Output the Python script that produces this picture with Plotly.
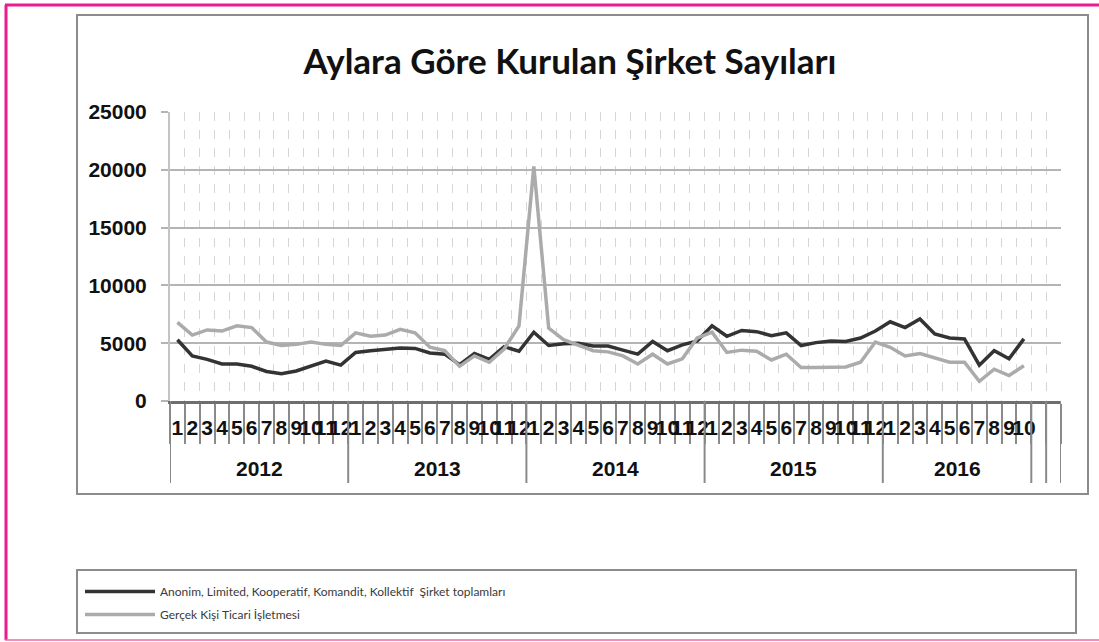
import plotly.graph_objects as go

# ---------------- data ----------------
years = ["2012", "2013", "2014", "2015", "2016"]
months_per_year = [12, 12, 12, 12, 10]
month_names = ["1", "2", "3", "4", "5", "6", "7", "8", "9", "10", "11", "12"]
extra_empty_slots = 2

anonim = [5300, 3900, 3600, 3200, 3200, 3000, 2550, 2350, 2600, 3050, 3450, 3100,
          4200, 4350, 4500, 4580, 4550, 4150, 4050, 3150, 4100, 3600, 4700, 4300,
          5950, 4800, 4950, 5000, 4750, 4750, 4400, 4050, 5150, 4350, 4850, 5200,
          6500, 5600, 6100, 6000, 5650, 5900, 4800, 5050, 5200, 5150, 5450, 6050,
          6850, 6350, 7100, 5800, 5450, 5370, 3100, 4350, 3650, 5370]

gercek = [6800, 5700, 6150, 6050, 6500, 6350, 5100, 4800, 4900, 5100, 4900, 4800,
          5900, 5600, 5700, 6200, 5900, 4650, 4350, 3000, 3900, 3350, 4500, 6500,
          20300, 6300, 5300, 4800, 4350, 4250, 3900, 3200, 4050, 3200, 3650, 5450,
          5950, 4200, 4400, 4300, 3550, 4050, 2900, 2900, 2900, 2950, 3350, 5100,
          4650, 3900, 4100, 3750, 3350, 3350, 1700, 2750, 2200, 3050]

name_a = "Anonim, Limited, Kooperatif, Komandit, Kollektif  Şirket toplamları"
name_g = "Gerçek Kişi Ticari İşletmesi"
title = "Aylara Göre Kurulan Şirket Sayıları"
y_ticks = [0, 5000, 10000, 15000, 20000, 25000]
y_tick_labels = ["0", "5000", "10000", "15000", "20000", "25000"]

# ---------------- derived ----------------
month_labels = []
for n in months_per_year:
    month_labels += month_names[:n]
x = list(range(len(month_labels)))
n_slots = len(x) + extra_empty_slots

# layout geometry (page pixels)
W, H = 1099, 642
L, R, T, B = 170, 1061, 112, 401
PW, PH = R - L, B - T


def px(v):
    return (v - L) / PW


def py(v):
    return (B - v) / PH


FONT = "Liberation Sans, Arial, sans-serif"

fig = go.Figure()
fig.add_trace(go.Scatter(x=x, y=anonim, mode="lines", name=name_a, legendgroup="a",
                         line=dict(color="#333333", width=3.5)))
fig.add_trace(go.Scatter(x=x, y=gercek, mode="lines", name=name_g, legendgroup="g",
                         line=dict(color="#ababab", width=3.5)))

shapes = []
# year separators (and the trailing empty slots)
bounds = [-0.5]
for n in months_per_year:
    bounds.append(bounds[-1] + n)
for k in range(extra_empty_slots):
    bounds.append(bounds[-1] + 1)
for b in bounds:
    shapes.append(dict(type="line", xref="x", yref="paper", x0=b, x1=b,
                       y0=0, y1=py(483), line=dict(color="#8a8a8a", width=2)))

# chart outer box, legend box
shapes.append(dict(type="rect", xref="paper", yref="paper",
                   x0=px(77), x1=px(1088), y0=py(494), y1=py(15),
                   line=dict(color="#8c8c8c", width=2)))
shapes.append(dict(type="rect", xref="paper", yref="paper",
                   x0=px(77), x1=px(1076), y0=py(633), y1=py(570),
                   line=dict(color="#8c8c8c", width=2)))
# magenta frame
shapes.append(dict(type="line", xref="paper", yref="paper",
                   x0=px(5), x1=px(1110), y0=py(5), y1=py(5),
                   line=dict(color="#ec1a8c", width=3)))
shapes.append(dict(type="line", xref="paper", yref="paper",
                   x0=px(6), x1=px(6), y0=py(5), y1=py(640),
                   line=dict(color="#ec1a8c", width=3)))
shapes.append(dict(type="line", xref="paper", yref="paper",
                   x0=px(5), x1=px(1110), y0=py(640), y1=py(640),
                   line=dict(color="#e86aaa", width=1.5)))

annotations = []
start = -0.5
for yr, n in zip(years, months_per_year):
    annotations.append(dict(x=start + n / 2, y=py(468), xref="x", yref="paper",
                            text=yr, showarrow=False, xanchor="center", yanchor="middle",
                            font=dict(family=FONT, size=21, color="#111", weight="bold")))
    start += n

fig.update_layout(
    width=W, height=H,
    margin=dict(l=L, r=W - R, t=T, b=H - B, pad=0),
    paper_bgcolor="white", plot_bgcolor="white",
    title=dict(text=title, x=570 / W, xref="container", xanchor="center",
               y=1 - 62 / H, yref="container", yanchor="middle",
               font=dict(family="Lato, Open Sans, sans-serif", size=35, color="#111",
                         weight="bold")),
    xaxis=dict(range=[-0.5, n_slots - 0.5], tickmode="array", tickvals=x,
               ticktext=month_labels, tickangle=0, showgrid=False, ticks="",
               ticklabelstandoff=6,
               tickfont=dict(family=FONT, size=21, color="#111", weight="bold"),
               showline=True, linecolor="#6e6e6e", linewidth=3, zeroline=False,
               minor=dict(tickmode="array", tickvals=[k - 0.5 for k in range(n_slots + 1)],
                          ticks="outside", ticklen=40, tickcolor="#8a8a8a", tickwidth=2,
                          showgrid=True, gridcolor="#d6d6d6", griddash="dash", gridwidth=1)),
    yaxis=dict(range=[0, 25000], tickmode="array", tickvals=y_ticks,
               ticktext=y_tick_labels,
               showgrid=True, gridcolor="#b4b4b4", gridwidth=1.5,
               ticks="outside", ticklen=7, tickcolor="#b4b4b4", tickwidth=1.5,
               ticklabelstandoff=10,
               tickfont=dict(family=FONT, size=21, color="#111", weight="bold"),
               showline=True, linecolor="#c4c4c4", linewidth=2, zeroline=False),
    showlegend=True,
    legend=dict(x=px(80), y=py(577), xanchor="left", yanchor="top",
                bgcolor="rgba(0,0,0,0)", borderwidth=0, itemwidth=70,
                tracegroupgap=4,
                font=dict(family="Lato, Open Sans, sans-serif", size=12, color="#3a3a3a")),
    shapes=shapes,
    annotations=annotations,
)

# remove the page's default body margin so the figure sits at the window's corner
fig.write_html("out.html", config={"displayModeBar": False},
               post_script="document.body.style.margin='0';")
